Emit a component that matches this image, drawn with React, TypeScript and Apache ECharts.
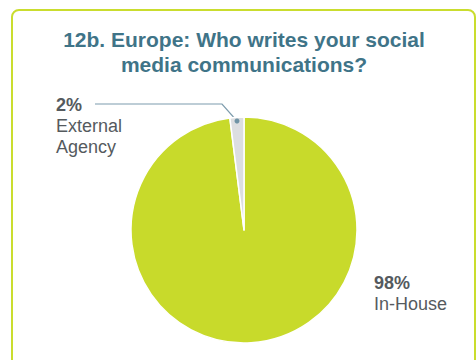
import React, { useEffect, useRef } from "react";
import * as echarts from "echarts";

const titleLines = ["12b. Europe: Who writes your social", "media communications?"];
const categories = ["In-House", "External\nAgency"];
const values = [98, 2];
const percentLabels = ["98%", "2%"];
const sliceColors = ["#c8da2b", "#dcdee1"];

export default function App() {
  const ref = useRef<HTMLDivElement>(null);
  useEffect(() => {
    if (!ref.current) return;
    const chart = echarts.init(ref.current, undefined, { renderer: "svg" });
    const data = categories.map((c, i) => ({
      name: c,
      value: values[i],
      itemStyle: { color: sliceColors[i] },
      label: { formatter: `{b|${percentLabels[i]}}\n{n|${c}}` },
      labelLine: { show: i === 1 },
    }));
    chart.setOption({
      animation: false,
      graphic: [
        {
          type: "rect",
          shape: { x: 12, y: 10, width: 463, height: 380, r: 7 },
          style: { fill: "none", stroke: "#cadd2e", lineWidth: 2 },
          z: -1,
        },
        ...titleLines.map((t, i) => ({
          type: "text",
          x: 244,
          y: 50 + i * 25,
          style: {
            text: t,
            textAlign: "center",
            textVerticalAlign: "bottom",
            font: "bold 21px 'Liberation Sans'",
            fill: "#3f7488",
          },
        })),
        {
          type: "circle",
          shape: { cx: 237, cy: 121, r: 2.5 },
          style: { fill: "#6f93a5" },
          z: 100,
        },
      ],
      series: [
        {
          type: "pie",
          center: [244, 230],
          radius: [0, 113],
          startAngle: 90,
          clockwise: true,
          data,
          itemStyle: { borderColor: "#ffffff", borderWidth: 1.5 },
          label: {
            show: true,
            color: "#555a5e",
            fontFamily: "Liberation Sans",
            rich: {
              b: { fontSize: 18, fontWeight: 700, lineHeight: 21, color: "#555a5e", fontFamily: "Liberation Sans" },
              n: { fontSize: 18, lineHeight: 21, color: "#555a5e", fontFamily: "Liberation Sans" },
            },
          },
          labelLine: { lineStyle: { color: "#7d9cad", width: 1.2 } },
          labelLayout: (params: any) => {
            if (params.dataIndex === 1) {
              return {
                x: 56,
                y: 94,
                align: "left",
                verticalAlign: "top",
                labelLinePoints: [
                  [237, 121],
                  [222, 104],
                  [95, 104],
                ],
              };
            }
            return { x: 374, y: 272, align: "left", verticalAlign: "top" };
          },
        },
      ],
    });
    return () => chart.dispose();
  }, []);
  return (
    <div
      ref={ref}
      style={{ position: "absolute", left: 0, top: 0, width: 476, height: 360 }}
    />
  );
}
